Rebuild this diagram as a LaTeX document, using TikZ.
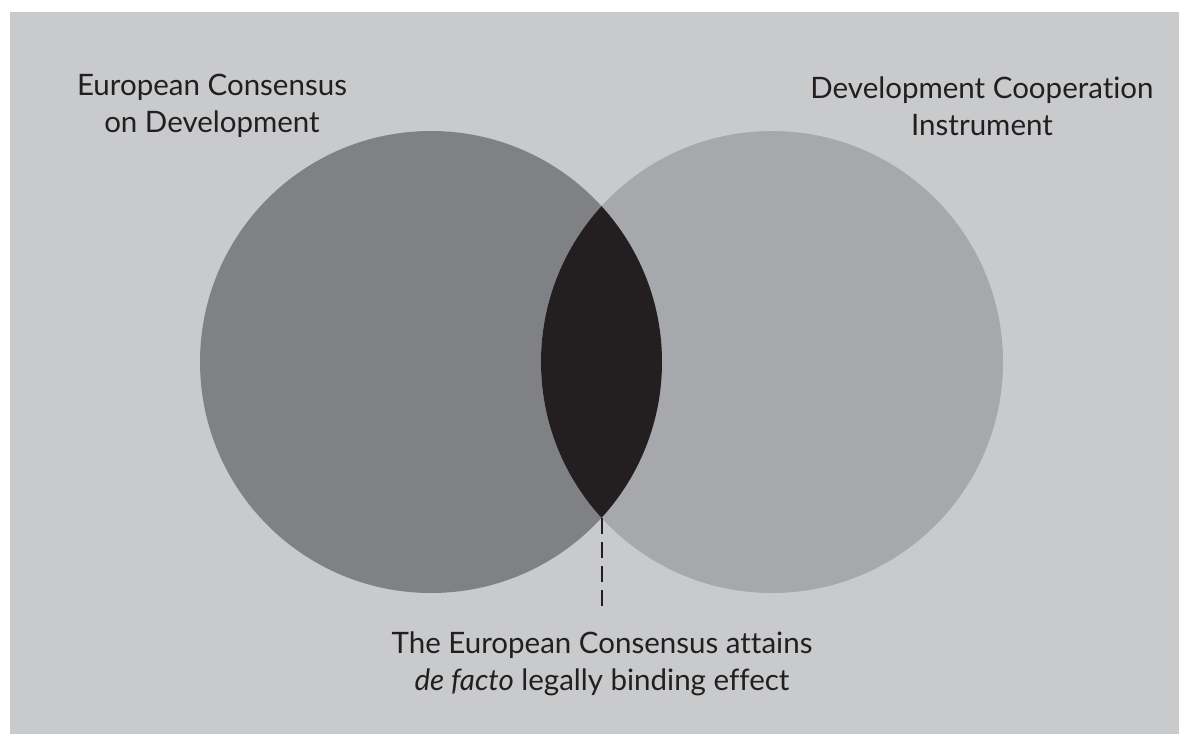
\documentclass[tikz,border=0pt]{standalone}
\usepackage{fontspec}
\setmainfont[Ligatures={NoCommon}]{Lato}
\definecolor{bgc}{HTML}{C9CACC}
\definecolor{leftc}{HTML}{808185}
\definecolor{rightc}{HTML}{A7A8AB}
\definecolor{darkc}{HTML}{231F20}
\tikzset{
  setc/.style={circle, inner sep=0pt, minimum size=462pt},
  lbl/.style={align=center, text=darkc, font=\fontsize{29.5}{37}\selectfont, inner sep=0pt},
}
\begin{document}
\begin{tikzpicture}[x=1pt,y=-1pt]
\useasboundingbox (0,0) rectangle (1179,734);
\fill[white] (0,0) rectangle (1179,734);
\fill[bgc] (10,12) rectangle (1179,734);
\node[setc, fill=leftc] (L) at (431,362) {};
\node[setc, fill=rightc] (R) at (772,362) {};
\begin{scope}
  \clip (L.center) circle (231pt);
  \fill[darkc] (R.center) circle (231pt);
\end{scope}
\coordinate (bot) at (601.5,518);
\node[lbl] (eu) at (212,106) {European Consensus\\on Development};
\node[lbl] (dci) at (982,106) {Development Cooperation\\Instrument};
\node[lbl, anchor=north] (res) at (602,632) {The European Consensus attains\\\textit{de facto} legally binding effect};
\draw[darkc, line width=2pt, dash pattern=on 16pt off 8pt] (bot) -- (bot |- 0,612);
\end{tikzpicture}
\end{document}
